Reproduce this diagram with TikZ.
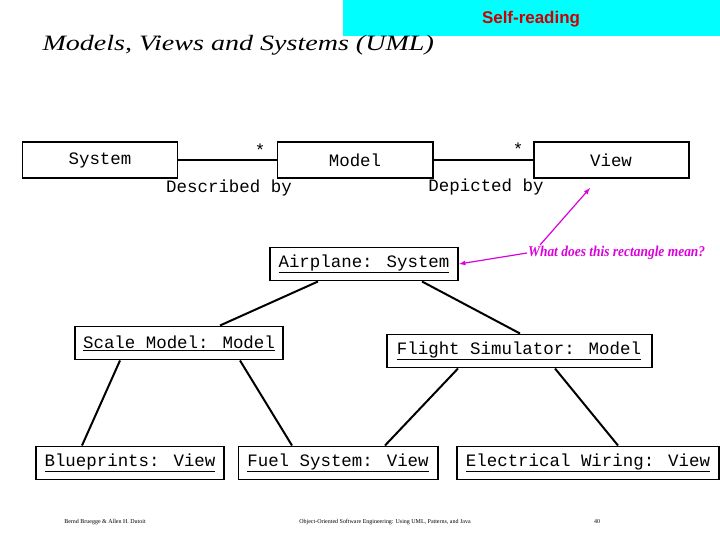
\documentclass[tikz,border=0pt]{standalone}
\usepackage{fontspec}
\setmainfont{Liberation Serif}
\newfontfamily\monof{Liberation Mono}
\newfontfamily\sansf{Liberation Sans}
\usetikzlibrary{positioning, arrows}
\definecolor{skyc}{RGB}{0,255,255}
\definecolor{magc}{RGB}{220,0,220}
\begin{document}
\begin{tikzpicture}[x=1bp, y=-1bp]
        \tikzstyle{every node} = [font=\monof\fontsize{17.5}{20}\selectfont]
        \tikzstyle{cls}  = [draw, line width=2pt, inner sep=0pt, minimum height=36bp, minimum width=155bp]
        \tikzstyle{obj}  = [draw, line width=2pt, inner sep=0pt, minimum height=33bp]
        \tikzstyle{conn} = [line width=2pt]
        \tikzstyle{note} = [magc, line width=1.2pt, -latex]
        \tikzstyle{foot} = [font=\rmfamily\fontsize{6}{7}\selectfont]

        \useasboundingbox (0,0) rectangle (720,540);
        \fill[skyc] (343,0) rectangle (720,36);
        \node[font=\sansf\bfseries\fontsize{17}{20}\selectfont, text=red!80!black] (self) at (531,19) {Self-reading};
        \node[font=\itshape\fontsize{22}{26}\selectfont, anchor=west, xscale=1.28] (title) at (38,45) {Models, Views and Systems (UML)};

        % classes
        \node[cls] (sys) at (100,160) {System};
        \node[cls] (mod) at (355,160) {Model};
        \node[cls] (view) at (611,160) {View};
        \draw[conn] (sys) -- (mod);
        \draw[conn] (mod) -- (view);
        \node (s1) at (260,150) {*};
        \node (s2) at (518,149) {*};
        \node (desc) at (229,188) {Described by};
        \node (dep) at (486,187) {Depicted by};

        % instances
        \node[obj, minimum width=188bp] (air) at (364,264) {\underline{Airplane: System}};
        \node[obj, minimum width=208bp] (scale) at (179,343) {\underline{Scale Model: Model}};
        \node[obj, minimum width=265bp] (flight) at (519,351) {\underline{Flight Simulator: Model}};
        \node[obj, minimum width=188bp] (blue) at (130,463) {\underline{Blueprints: View}};
        \node[obj, minimum width=199bp] (fuel) at (338,463) {\underline{Fuel System: View}};
        \node[obj, minimum width=262bp] (elec) at (588,463) {\underline{Electrical Wiring: View}};

        \draw[conn] ([xshift=-46bp]air.south) -- ([xshift=41bp]scale.north);
        \draw[conn] ([xshift=58bp]air.south) -- ([xshift=1bp]flight.north);
        \draw[conn] ([xshift=-59bp]scale.south) -- ([xshift=-48bp]blue.north);
        \draw[conn] ([xshift=61bp]scale.south) -- ([xshift=-46bp]fuel.north);
        \draw[conn] ([xshift=-61bp]flight.south) -- ([xshift=47bp]fuel.north);
        \draw[conn] ([xshift=36bp]flight.south) -- ([xshift=30bp]elec.north);

        % question
        \node[font=\itshape\bfseries\fontsize{15}{17}\selectfont, text=magc, anchor=west, inner sep=1pt, xscale=0.9] (q) at (527,253) {What does this rectangle mean?};
        \draw[note] (q.west) -- (air.east);
        \draw[note] (540,245) -- (590,188);

        % footer
        \node[foot] (f1) at (105,522) {Bernd Bruegge \& Allen H. Dutoit};
        \node[foot] (f2) at (385,522) {Object-Oriented Software Engineering: Using UML, Patterns, and Java};
        \node[foot] (f3) at (597,522) {40};
\end{tikzpicture}
\end{document}
